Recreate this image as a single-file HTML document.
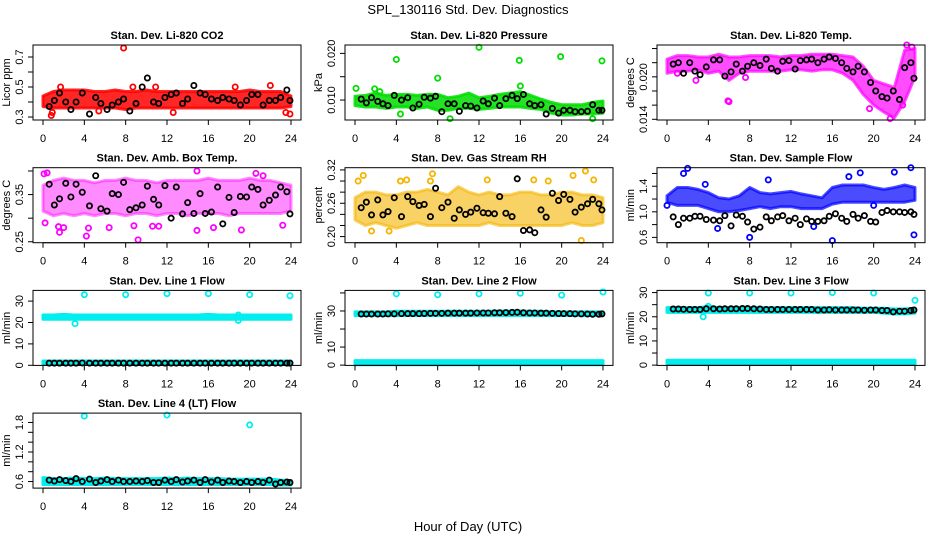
<!DOCTYPE html>
<html><head><meta charset="utf-8"><style>
html,body{margin:0;padding:0;background:#fff;}
svg{display:block;font-family:"Liberation Sans",Arial,sans-serif;}
</style></head><body>
<svg id="chart" width="936" height="540" viewBox="0 0 936 540" xmlns="http://www.w3.org/2000/svg">
<text x="468" y="14" font-size="13" text-anchor="middle">SPL_130116  Std. Dev. Diagnostics</text>
<text x="468" y="531" font-size="13" text-anchor="middle">Hour of Day (UTC)</text>
</svg>
<script>
// shared hour values
const bandHours=[0,1,2,3,4,5,6,7,8,9,10,11,12,13,14,15,16,17,18,19,20,21,22,23,24];
const blackHours=[0.6,1.1,1.6,2.2,2.7,3.2,3.8,4.5,5.1,5.6,6.2,6.7,7.3,7.8,8.4,9.0,9.6,10.1,10.7,11.2,11.8,12.4,12.9,13.5,14.0,14.6,15.2,15.7,16.3,16.9,17.4,18.0,18.5,19.1,19.7,20.2,20.8,21.3,21.9,22.5,23.0,23.6,23.9];
const xTicks=[0,4,8,12,16,20,24];

// CO2
const co2Lo=[0.37,0.36,0.36,0.36,0.36,0.36,0.36,0.36,0.35,0.36,0.36,0.36,0.36,0.36,0.36,0.36,0.36,0.36,0.36,0.36,0.36,0.36,0.36,0.36,0.37];
const co2Hi=[0.44,0.47,0.48,0.48,0.48,0.47,0.47,0.48,0.47,0.47,0.48,0.47,0.47,0.47,0.47,0.47,0.47,0.47,0.47,0.47,0.48,0.47,0.47,0.47,0.44];
const co2OutX=[7.8,0.8,0.9,1.7,8.7,10.9,22,23.9,23.5,5.4,12.6,18.6];
const co2OutY=[0.76,0.31,0.33,0.5,0.5,0.5,0.51,0.32,0.33,0.34,0.33,0.5];
const co2Black=[0.37,0.41,0.46,0.40,0.35,0.40,0.46,0.32,0.43,0.39,0.35,0.38,0.40,0.42,0.34,0.39,0.50,0.56,0.40,0.39,0.43,0.45,0.46,0.39,0.42,0.51,0.46,0.45,0.42,0.41,0.43,0.42,0.41,0.38,0.41,0.45,0.45,0.38,0.41,0.41,0.43,0.48,0.41];
// Pressure
const presLo=[0.0088,0.0085,0.0085,0.0082,0.0085,0.0085,0.0082,0.0085,0.0078,0.0078,0.0082,0.0082,0.0080,0.0082,0.0085,0.0085,0.0085,0.0082,0.0080,0.0072,0.0068,0.0068,0.0070,0.0070,0.0072];
const presHi=[0.0108,0.0110,0.0115,0.0110,0.0112,0.0112,0.0110,0.0112,0.0112,0.0105,0.0108,0.0115,0.0105,0.0108,0.0112,0.0115,0.0118,0.0110,0.0102,0.0095,0.0090,0.0090,0.0090,0.0095,0.0098];
const presOutX=[0.1,4.0,8.0,12.0,15.9,19.9,23.9,1.9,2.4,16.0,9.2,23.0,4.4];
const presOutY=[0.0125,0.0187,0.0147,0.0213,0.0185,0.0193,0.0184,0.0124,0.0118,0.0130,0.0060,0.0060,0.0070];
const presBlack=[0.0102,0.0094,0.0105,0.0097,0.0092,0.0088,0.0110,0.0100,0.0105,0.0083,0.0091,0.0106,0.0104,0.0108,0.0075,0.0092,0.0092,0.0076,0.0088,0.0087,0.0083,0.0098,0.0092,0.0104,0.0088,0.0103,0.0110,0.0103,0.0112,0.0092,0.0088,0.0090,0.0070,0.0082,0.0072,0.0078,0.0078,0.0075,0.0075,0.0076,0.0090,0.0078,0.0078];
// Li-820 temp
const ltLo=[0.0205,0.0208,0.0208,0.0210,0.0205,0.0208,0.0195,0.0205,0.0208,0.0208,0.0208,0.0208,0.0210,0.0210,0.0208,0.0210,0.0210,0.0205,0.0195,0.0175,0.0160,0.0150,0.0142,0.0165,0.0200];
const ltHi=[0.0225,0.0230,0.0230,0.0228,0.0228,0.0232,0.0228,0.0228,0.0230,0.0230,0.0230,0.0228,0.0230,0.0230,0.0232,0.0232,0.0232,0.0230,0.0228,0.0215,0.0195,0.0190,0.0185,0.0238,0.0240];
const ltOutX=[2.8,5.9,6.0,7.6,19.6,21.6,22.8,23.2,23.7,1.0];
const ltOutY=[0.0195,0.0166,0.0165,0.0199,0.0155,0.0141,0.0160,0.0245,0.0242,0.0205];
const ltBlack=[0.0218,0.0220,0.0205,0.0220,0.0208,0.0203,0.0214,0.0224,0.0224,0.0201,0.0207,0.0218,0.0208,0.0215,0.0220,0.0216,0.0225,0.0212,0.0208,0.0222,0.0223,0.0211,0.0223,0.0224,0.0225,0.0220,0.0225,0.0228,0.0226,0.0220,0.0212,0.0207,0.0215,0.0207,0.0192,0.0180,0.0172,0.0170,0.0180,0.0168,0.0213,0.0220,0.0198];
// Amb box temp
const abLo=[0.315,0.305,0.31,0.305,0.31,0.305,0.31,0.31,0.305,0.31,0.31,0.305,0.31,0.31,0.305,0.31,0.31,0.31,0.305,0.31,0.31,0.31,0.31,0.31,0.315];
const abHi=[0.37,0.38,0.385,0.38,0.38,0.375,0.38,0.38,0.385,0.38,0.38,0.375,0.38,0.38,0.38,0.38,0.385,0.38,0.38,0.38,0.385,0.38,0.38,0.375,0.37];
const abOutX=[0.1,0.4,0.2,1.5,1.6,2.0,4.4,4.2,6.4,8.8,9.2,10.6,11.2,14.9,14.9,16.5,19.2,20.6,21.3,23.2];
const abOutY=[0.394,0.396,0.29,0.282,0.27,0.28,0.279,0.262,0.28,0.284,0.254,0.283,0.283,0.40,0.274,0.28,0.275,0.395,0.39,0.285];
const abBlack=[0.372,0.328,0.341,0.374,0.345,0.372,0.355,0.326,0.390,0.320,0.315,0.352,0.350,0.376,0.318,0.322,0.328,0.368,0.340,0.328,0.369,0.300,0.366,0.309,0.333,0.310,0.352,0.310,0.313,0.366,0.288,0.344,0.312,0.346,0.345,0.366,0.361,0.328,0.338,0.349,0.366,0.356,0.309];
// RH
const rhLo=[0.23,0.22,0.225,0.22,0.215,0.22,0.225,0.22,0.22,0.22,0.22,0.22,0.22,0.225,0.22,0.22,0.22,0.22,0.22,0.22,0.22,0.225,0.22,0.22,0.225];
const rhHi=[0.27,0.28,0.28,0.275,0.275,0.28,0.28,0.285,0.28,0.275,0.29,0.28,0.275,0.28,0.275,0.275,0.28,0.28,0.275,0.275,0.28,0.28,0.275,0.275,0.27];
const rhOutX=[0.3,0.8,4.4,5.0,7.5,7.3,12.8,17.3,18.7,21.1,22.3,21.9,23.1,1.6,3.3];
const rhOutY=[0.30,0.31,0.30,0.302,0.313,0.30,0.302,0.302,0.30,0.31,0.318,0.193,0.302,0.21,0.21];
const rhBlack=[0.252,0.262,0.239,0.266,0.239,0.245,0.270,0.236,0.272,0.263,0.256,0.258,0.236,0.287,0.252,0.262,0.233,0.248,0.240,0.244,0.251,0.243,0.242,0.241,0.272,0.242,0.236,0.304,0.211,0.212,0.207,0.248,0.235,0.278,0.265,0.276,0.267,0.244,0.253,0.259,0.267,0.259,0.248];
// Sample flow
const sfLo=[1.15,1.1,1.1,1.1,1.05,1.0,1.0,1.02,1.05,1.08,1.05,1.08,1.08,1.05,1.05,1.05,1.12,1.15,1.15,1.15,1.15,1.15,1.15,1.15,1.18];
const sfHi=[1.25,1.38,1.38,1.35,1.3,1.22,1.2,1.25,1.38,1.3,1.28,1.3,1.32,1.28,1.25,1.22,1.38,1.42,1.42,1.42,1.38,1.35,1.38,1.42,1.38];
const sfOutX=[2.0,23.6,1.6,16,23.9,8.0,4.9,18.7,22.0,17.6,9.8,3.7,0.0,20.0,14.2];
const sfOutY=[1.68,1.69,1.6,0.55,0.64,0.6,0.74,1.61,1.62,1.55,1.5,1.43,1.1,1.1,0.77];
const sfBlack=[0.92,0.8,0.9,0.9,0.93,0.93,0.88,0.87,0.86,0.94,0.78,0.95,0.93,0.84,0.73,0.76,0.92,0.86,0.92,0.94,0.86,0.9,0.8,0.89,0.85,0.85,0.86,0.93,0.97,0.9,0.85,0.96,0.9,0.94,0.85,0.84,0.99,1.02,1.0,1.0,0.99,1.0,0.96];
// Line 1
const l1Lo=[21.5,21.5,21.5,21.5,21.5,21.5,21.5,21.5,21.5,21.5,21.5,21.5,21.5,21.5,21.5,21.5,21.5,21.5,21.5,21.5,21.5,21.5,21.5,21.5,21.5];
const l1Hi=[23.5,23.5,23.8,23.5,23.5,23.5,23.5,23.5,23.5,23.5,23.5,23.5,23.5,23.5,23.5,23.5,23.8,23.5,23.5,23.5,23.5,23.5,23.5,23.5,23.5];
const l1Lo2=[0.4,0.4,0.4,0.4,0.4,0.4,0.4,0.4,0.4,0.4,0.4,0.4,0.4,0.4,0.4,0.4,0.4,0.4,0.4,0.4,0.4,0.4,0.4,0.4,0.4];
const l1Hi2=[2,2,2,2,2,2,2,2,2,2,2,2,2,2,2,2,2,2,2,2,2,2,2,2,2];
const l1OutX=[4,8,12,16,20,23.9,3.1,18.9,18.9];
const l1OutY=[33,33,33.5,33.5,33,32.5,19.5,21,23.5];
const l1Black=[1.0,1.0,1.0,1.0,1.0,1.0,1.1,1.0,1.0,1.0,1.0,1.0,1.0,1.0,1.0,1.0,1.0,1.0,1.0,1.0,1.0,1.0,1.0,1.0,1.0,1.0,1.0,1.0,1.0,1.0,1.0,1.0,1.0,1.0,1.0,1.0,1.0,1.0,1.0,1.0,1.0,1.0,1.0];
// Line 2
const l2Lo=[27.5,27.5,27.5,27.5,27.5,27.5,27.5,27.5,27.5,27.5,27.5,27.5,27.5,27.5,27.5,27.5,27.5,27.5,27.5,27.5,27.5,27.5,27.5,27.5,27.5];
const l2Hi=[29.5,29.5,29.5,29.5,29.8,29.8,29.8,29.8,29.8,29.8,29.8,29.8,29.8,29.8,30,30,30,29.8,29.8,29.5,29.5,29.5,29.5,29.5,29.5];
const l2Lo2=[0.2,0.2,0.2,0.2,0.2,0.2,0.2,0.2,0.2,0.2,0.2,0.2,0.2,0.2,0.2,0.2,0.2,0.2,0.2,0.2,0.2,0.2,0.2,0.2,0.2];
const l2Hi2=[2.5,2.5,2.5,2.5,2.5,2.5,2.5,2.5,2.5,2.5,2.5,2.5,2.5,2.5,2.5,2.5,2.5,2.5,2.5,2.5,2.5,2.5,2.5,2.5,2.5];
const l2OutX=[4,8,12,16,20,24];
const l2OutY=[39.5,39,39.5,39.8,38.8,40.5];
const l2Black=[28.3,28.3,28.3,28.3,28.3,28.4,28.4,28.5,28.5,28.5,28.5,28.6,28.7,28.7,28.7,28.8,28.8,28.8,28.8,28.8,28.9,28.9,28.9,29.0,29.0,29.1,29.2,29.3,29.0,28.9,28.9,28.8,28.8,28.7,28.6,28.5,28.5,28.4,28.4,28.3,28.2,28.2,28.4];
// Line 3
const l3Lo=[21.8,21.8,21.8,21.8,21.8,21.8,21.8,21.8,21.8,21.8,21.8,21.8,21.8,21.8,21.8,21.8,21.8,21.8,21.8,21.8,21.8,21.5,21.2,21.2,21.5];
const l3Hi=[23.8,23.8,23.8,23.8,24.2,23.8,23.8,23.8,23.8,23.8,23.8,23.8,23.8,23.8,23.8,23.8,23.8,23.8,23.8,23.5,23.5,23.5,23.2,23.2,23.5];
const l3Lo2=[0.3,0.3,0.3,0.3,0.3,0.3,0.3,0.3,0.3,0.3,0.3,0.3,0.3,0.3,0.3,0.3,0.3,0.3,0.3,0.3,0.3,0.3,0.3,0.3,0.3];
const l3Hi2=[2,2,2,2,2,2,2,2,2,2,2,2,2,2,2,2,2,2,2,2,2,2,2,2,2];
const l3OutX=[4,8,12,16,20,24,3.5,4];
const l3OutY=[29.8,29.8,29.8,30,29.8,26.8,20,24.3];
const l3Black=[23.2,23.2,23.1,23.0,23.0,23.0,23.3,23.3,23.2,23.3,23.3,23.3,23.4,23.4,23.3,23.2,23.0,23.0,23.0,23.0,23.0,23.0,23.0,23.0,23.0,22.8,22.8,22.9,22.8,22.8,22.8,22.8,22.8,22.7,22.8,22.8,22.6,22.6,22.0,22.3,22.3,22.6,22.8];
// Line 4
const l4Lo=[0.54,0.54,0.54,0.54,0.54,0.54,0.54,0.54,0.54,0.54,0.54,0.54,0.54,0.54,0.54,0.54,0.54,0.54,0.54,0.54,0.54,0.54,0.54,0.53,0.53];
const l4Hi=[0.68,0.66,0.66,0.67,0.66,0.66,0.67,0.66,0.66,0.66,0.66,0.66,0.67,0.66,0.67,0.66,0.66,0.66,0.65,0.65,0.65,0.65,0.65,0.63,0.62];
const l4OutX=[4,12,20];
const l4OutY=[1.93,1.95,1.75];
const l4Black=[0.63,0.61,0.64,0.62,0.6,0.66,0.6,0.65,0.58,0.61,0.64,0.6,0.63,0.6,0.6,0.61,0.6,0.62,0.58,0.58,0.63,0.6,0.64,0.59,0.61,0.63,0.58,0.64,0.59,0.63,0.58,0.61,0.6,0.58,0.6,0.58,0.6,0.58,0.63,0.55,0.58,0.59,0.58];

const panels=[
 {key:'co2',c:0,r:0,title:'Stan. Dev. Li-820 CO2',ylab:'Licor ppm',ymin:0.28,ymax:0.78,ticks:[0.3,0.4,0.5,0.6,0.7],labels:['0.3','','0.5','','0.7'],col:'#ff0000',op:0.85,lo:co2Lo,hi:co2Hi,ox:co2OutX,oy:co2OutY,bk:co2Black},
 {key:'pressure',c:1,r:0,title:'Stan. Dev. Li-820 Pressure',ylab:'kPa',ymin:0.00572,ymax:0.0218,ticks:[0.010,0.015,0.020],labels:['0.010','','0.020'],col:'#00dd00',op:0.85,lo:presLo,hi:presHi,ox:presOutX,oy:presOutY,bk:presBlack},
 {key:'li820-temp',c:2,r:0,title:'Stan. Dev. Li-820 Temp.',ylab:'degrees C',ymin:0.0139,ymax:0.0245,ticks:[0.014,0.016,0.018,0.020,0.022,0.024],labels:['0.014','','','0.020','',''],col:'#ff00ff',op:0.7,lo:ltLo,hi:ltHi,ox:ltOutX,oy:ltOutY,bk:ltBlack},
 {key:'amb-box-temp',c:0,r:1,title:'Stan. Dev. Amb. Box Temp.',ylab:'degrees C',ymin:0.248,ymax:0.407,ticks:[0.25,0.30,0.35,0.40],labels:['0.25','','0.35',''],col:'#ff00ff',op:0.45,lo:abLo,hi:abHi,ox:abOutX,oy:abOutY,bk:abBlack},
 {key:'gas-rh',c:1,r:1,title:'Stan. Dev. Gas Stream RH',ylab:'percent',ymin:0.189,ymax:0.324,ticks:[0.20,0.22,0.24,0.26,0.28,0.30,0.32],labels:['0.20','','','0.26','','','0.32'],col:'#f5b400',op:0.6,lo:rhLo,hi:rhHi,ox:rhOutX,oy:rhOutY,bk:rhBlack},
 {key:'sample-flow',c:2,r:1,title:'Stan. Dev. Sample Flow',ylab:'ml/min',ymin:0.517,ymax:1.69,ticks:[0.6,0.8,1.0,1.2,1.4,1.6],labels:['0.6','','1.0','','1.4',''],col:'#0000ff',op:0.7,lo:sfLo,hi:sfHi,ox:sfOutX,oy:sfOutY,bk:sfBlack},
 {key:'line1',c:0,r:2,title:'Stan. Dev. Line 1 Flow',ylab:'ml/min',ymin:-0.05,ymax:35.0,ticks:[0,10,20,30],labels:['0','10','20','30'],col:'#00eeee',op:1,lo:l1Lo,hi:l1Hi,lo2:l1Lo2,hi2:l1Hi2,ox:l1OutX,oy:l1OutY,bk:l1Black},
 {key:'line2',c:1,r:2,title:'Stan. Dev. Line 2 Flow',ylab:'ml/min',ymin:-0.16,ymax:41.4,ticks:[0,10,20,30,40],labels:['0','10','','30',''],col:'#00eeee',op:1,lo:l2Lo,hi:l2Hi,lo2:l2Lo2,hi2:l2Hi2,ox:l2OutX,oy:l2OutY,bk:l2Black},
 {key:'line3',c:2,r:2,title:'Stan. Dev. Line 3 Flow',ylab:'ml/min',ymin:-0.12,ymax:30.9,ticks:[0,5,10,15,20,25,30],labels:['0','','10','','20','','30'],col:'#00eeee',op:1,lo:l3Lo,hi:l3Hi,lo2:l3Lo2,hi2:l3Hi2,ox:l3OutX,oy:l3OutY,bk:l3Black},
 {key:'line4',c:0,r:3,title:'Stan. Dev. Line 4 (LT) Flow',ylab:'ml/min',ymin:0.467,ymax:1.99,ticks:[0.6,0.8,1.0,1.2,1.4,1.6,1.8],labels:['0.6','','','1.2','','','1.8'],col:'#00eeee',op:1,lo:l4Lo,hi:l4Hi,ox:l4OutX,oy:l4OutY,bk:l4Black}
];
const NS='http://www.w3.org/2000/svg';
const svg=document.getElementById('chart');
function mk(tag,attrs,parent){const e=document.createElementNS(NS,tag);for(const k in attrs)e.setAttribute(k,attrs[k]);(parent||svg).appendChild(e);return e;}
panels.forEach(p=>{
 const x0=43+312*p.c, x24=291+312*p.c;
 const left=x0-10, right=x24+10;
 const top=45+122.7*p.r, bottom=top+75;
 const X=h=>x0+(x24-x0)*h/24;
 const Y=v=>bottom-(v-p.ymin)/(p.ymax-p.ymin)*(bottom-top);
 const g=mk('g',{});
 
 
 const t=mk('text',{x:(left+right)/2,y:top-6,'font-size':11,'font-weight':'bold','text-anchor':'middle'},g);
 
 
 t.textContent=p.title;
 const yt=mk('text',{x:left-23,y:(top+bottom)/2,'font-size':11,'text-anchor':'middle',transform:`rotate(-90 ${left-23} ${(top+bottom)/2})`},g);
 
 
 yt.textContent=p.ylab;
 const drawBand=(lo,hi,name)=>{
  let pts=bandHours.map((h,i)=>X(h).toFixed(1)+','+Y(hi[i]).toFixed(1));
  for(let i=bandHours.length-1;i>=0;i--)pts.push(X(bandHours[i]).toFixed(1)+','+Y(lo[i]).toFixed(1));
  const b=mk('polygon',{points:pts.join(' '),fill:p.col,'fill-opacity':p.op,stroke:p.col,'stroke-width':3,'stroke-linejoin':'round','stroke-opacity':p.op},g);
  
  
 };
 drawBand(p.lo,p.hi,'data-band');
 if(p.lo2)drawBand(p.lo2,p.hi2,'data-band-low');
 p.ox.forEach((h,i)=>{
  const c=mk('circle',{cx:X(h),cy:Y(p.oy[i]),r:2.6,fill:'none',stroke:p.col,'stroke-width':1.8},g);
  
  
 });
 blackHours.forEach((h,i)=>{
  const c=mk('circle',{cx:X(h),cy:Y(p.bk[i]),r:2.6,fill:'none',stroke:'#000','stroke-width':1.8},g);
  
  
 });
 const box=mk('rect',{x:left,y:top,width:right-left,height:bottom-top,fill:'none',stroke:'#000','stroke-width':1},g);
 
 
 mk('line',{x1:X(xTicks[0]),x2:X(xTicks[xTicks.length-1]),y1:bottom,y2:bottom,stroke:'#000'},g);
 xTicks.forEach(h=>{
  mk('line',{x1:X(h),x2:X(h),y1:bottom,y2:bottom+5,stroke:'#000'},g);
  const l=mk('text',{x:X(h),y:bottom+22,'font-size':11,'text-anchor':'middle'},g);
  
  
  l.textContent=h;
 });
 p.ticks.forEach((v,i)=>{
  mk('line',{x1:left-5,x2:left,y1:Y(v),y2:Y(v),stroke:'#000'},g);
  if(p.labels[i]){
   const l=mk('text',{x:left-10,y:Y(v),'font-size':11,'text-anchor':'middle',transform:`rotate(-90 ${left-10} ${Y(v)})`},g);
   
   
   l.textContent=p.labels[i];
  }
 });
});
</script>
</body></html>
